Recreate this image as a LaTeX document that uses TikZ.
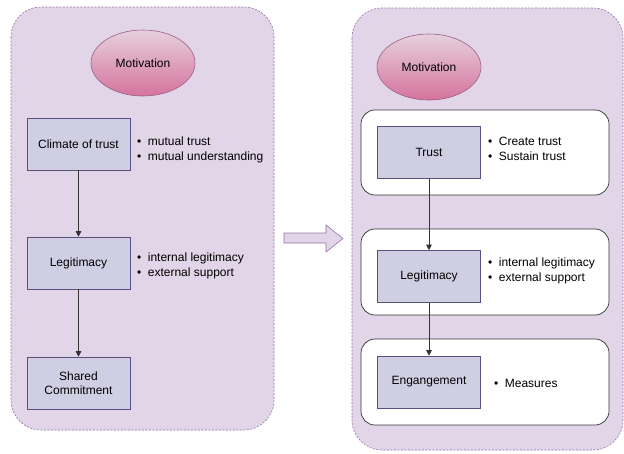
\documentclass[tikz,border=0pt]{standalone}
\usepackage{fontspec}
\setmainfont{Liberation Sans}
\usetikzlibrary{shapes.geometric,arrows.meta}
\definecolor{contfill}{HTML}{E1D5E7}
\definecolor{contdraw}{HTML}{9673A6}
\definecolor{boxfill}{HTML}{D0CEE2}
\definecolor{boxdraw}{HTML}{56517E}
\definecolor{elltop}{HTML}{E6D0DE}
\definecolor{ellbot}{HTML}{D5739D}
\definecolor{elldraw}{HTML}{996185}
\definecolor{linec}{HTML}{333333}
\begin{document}
\begin{tikzpicture}[x=1pt,y=-1pt,
  every node/.style={font=\fontsize{12}{14}\selectfont},
  container/.style={draw=contdraw,fill=contfill,dashed,dash pattern=on 2pt off 1.5pt,rounded corners=30pt,line width=0.6pt},
  whitebox/.style={draw=black!80,fill=white,rounded corners=14pt,line width=0.7pt},
  stepbox/.style={draw=boxdraw,fill=boxfill,minimum width=103pt,minimum height=52pt,inner sep=0pt,align=center,line width=0.6pt},
  motiv/.style={ellipse,draw=elldraw,top color=elltop,bottom color=ellbot,minimum width=104pt,minimum height=66pt,inner sep=0pt,line width=0.6pt},
  bullets/.style={anchor=west,align=left,inner sep=0pt},
  conn/.style={draw=linec,line width=0.8pt,-{Triangle[length=5.5pt,width=5.5pt]}}
]
\useasboundingbox (0,0) rectangle (624,453);
% left container
\path[container] (11,7) rectangle (274,430);
% right container
\path[container] (352,8) rectangle (623,450);
% block arrow
\path[draw=contdraw,fill=contfill,line width=0.6pt] (284,233) -- (326,233) -- (326,225) -- (343,238.5) -- (326,252) -- (326,243) -- (284,243) -- cycle;

% left content
\node[motiv] (m1) at (143,63) {Motivation};
\node[stepbox] (c1) at (78.5,144) {Climate of trust};
\node[stepbox] (l1) at (78.5,263) {Legitimacy};
\node[stepbox] (s1) at (78.5,383) {Shared\\Commitment};
\node[bullets] (b1) at (137,149.5) {•\hspace{6.5pt}mutual trust\\[1pt]•\hspace{6.5pt}mutual understanding};
\node[bullets] (b2) at (137,266) {•\hspace{6.5pt}internal legitimacy\\[1pt]•\hspace{6.5pt}external support};
\draw[conn] (c1) -- (l1);
\draw[conn] (l1) -- (s1);

% right content
\node[motiv] (m2) at (429,67) {Motivation};
\path[whitebox] (361,110) rectangle (609,195);
\path[whitebox] (361,229) rectangle (609,315);
\path[whitebox] (361,339) rectangle (609,425);
\node[stepbox] (t2) at (429,152.5) {Trust};
\node[stepbox] (l2) at (429,276.5) {Legitimacy};
\node[stepbox] (e2) at (429,382) {Engangement};
\node[bullets] (b3) at (488,148.5) {•\hspace{6.5pt}Create trust\\[1pt]•\hspace{6.5pt}Sustain trust};
\node[bullets] (b4) at (488,270.5) {•\hspace{6.5pt}internal legitimacy\\[1pt]•\hspace{6.5pt}external support};
\node[bullets] (b5) at (494,383) {•\hspace{6.5pt}Measures};
\draw[conn] (t2) -- (l2);
\draw[conn] (l2) -- (e2);
\end{tikzpicture}
\end{document}
